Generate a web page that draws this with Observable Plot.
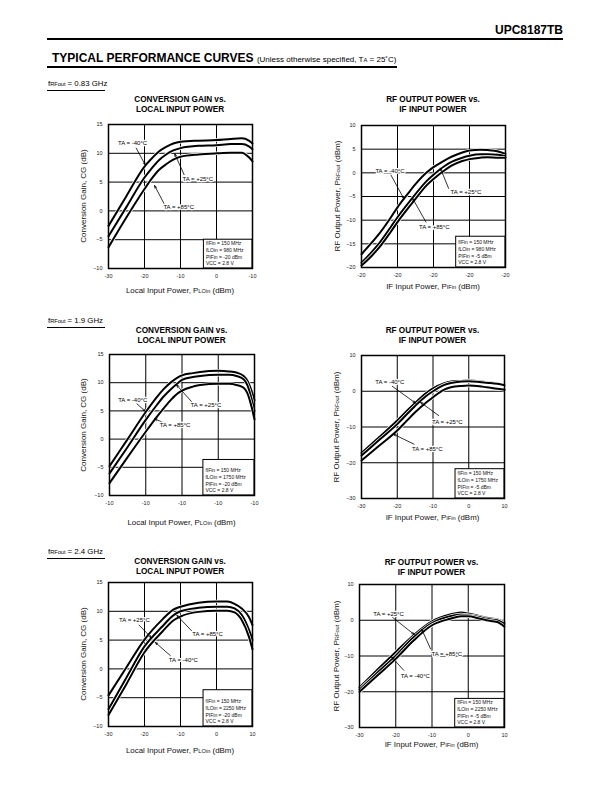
<!DOCTYPE html>
<html><head><meta charset="utf-8">
<script src="https://cdn.jsdelivr.net/npm/d3@7"></script>
<script src="https://cdn.jsdelivr.net/npm/@observablehq/plot@0.6"></script>
<style>
body{margin:0;background:#fff;font-family:"Liberation Sans",Arial,sans-serif;color:#000;}
#page{position:relative;width:612px;height:792px;overflow:hidden;background:#fff;}
.s{font-size:0.72em;}
</style></head><body><div id="page"></div>
<script>
// ---------------- DATA ----------------
const tNeg40 = "TA = -40°C", tPos25 = "TA = +25°C", tPos85 = "TA = +85°C";

// Panel 1: fRFout = 0.83 GHz, conversion gain vs LO power
const cg083X   = [-30,-25,-20,-18,-16,-14,-12,-10,-5,0,4,7,9,10];
const cg083N40 = [-2.6,2.6,7.7,9.1,10.3,11.1,11.7,12.0,12.2,12.3,12.5,12.6,12.2,11.7];
const cg083P25 = [-4.4,0.7,5.8,7.4,8.8,9.8,10.5,10.9,11.3,11.4,11.6,11.6,11.2,10.7];
const cg083P85 = [-6.3,-1.1,3.8,5.6,7.1,8.1,8.9,9.4,9.8,10.0,10.1,10.1,9.3,8.6];

// Panel 2: 0.83 GHz, RF output vs IF input
const rf083X   = [-30,-27,-25,-22,-20,-17,-15,-12,-10,-7,-5,-2,0,3,5,8,10];
const rf083N40 = [-17.2,-14.6,-12.8,-9.6,-7.3,-4.3,-2.4,0,1.2,2.6,3.4,4.3,4.7,4.9,4.8,4.5,4.0];
const rf083P25 = [-19,-16.6,-14.8,-11.6,-9.4,-6.4,-4.5,-1.8,-0.4,1.4,2.3,3.2,3.6,3.9,3.9,3.8,3.5];
const rf083P85 = [-19.6,-17.4,-15.7,-12.6,-10.4,-7.4,-5.5,-2.7,-1.3,0.5,1.5,2.5,2.9,3.2,3.3,3.2,3.2];

// Panel 3: 1.9 GHz, conversion gain
const cg19X   = [-30,-25,-20,-17,-15,-13,-11,-10,-7,-5,0,3,5,7,8,9,10];
const cg19N40 = [-4.8,0,4.8,7.4,8.9,10.1,11.0,11.3,11.7,11.9,12.1,12.0,11.8,11.2,10.4,8.9,6.9];
const cg19P25 = [-6.1,-1.4,3.4,6.0,7.6,8.9,10.0,10.5,11.0,11.2,11.4,11.4,11.2,10.6,9.6,7.6,5.0];
const cg19P85 = [-7.8,-3.2,1.3,3.9,5.5,7.0,8.2,8.6,9.3,9.6,9.8,9.8,9.6,9.1,8.2,6.2,3.5];

// Panel 4: 1.9 GHz, RF output
const rf19X   = [-30,-25,-20,-17,-15,-12,-10,-7,-5,-2,0,3,5,8,10];
const rf19N40 = [-17.3,-12.8,-8.2,-5.2,-3.3,-0.6,0.8,2.2,2.7,2.9,3.0,2.8,2.5,2.2,1.9];
const rf19P25 = [-18.0,-13.6,-9.2,-6.1,-4.1,-1.4,0.0,1.7,2.3,2.7,2.8,2.6,2.4,2.1,1.7];
const rf19P85 = [-19.4,-15.2,-11.0,-7.9,-5.9,-3.2,-1.7,0.4,1.1,1.5,1.6,1.4,1.1,0.7,0.4];

// Panel 5: 2.4 GHz, conversion gain
const cg24X   = [-30,-25,-20,-15,-12,-10,-5,0,3,5,7,9,10];
const cg24P25 = [-4.6,0.3,5.1,8.6,10.3,10.8,11.5,11.7,11.7,11.3,10.5,9.0,7.6];
const cg24P85 = [-7.0,-1.5,3.9,7.4,9.3,10.0,10.6,10.8,10.8,10.5,9.4,6.8,5.0];
const cg24N40 = [-8.0,-2.6,2.9,6.5,8.4,9.1,9.9,10.1,10.1,9.8,8.5,5.6,3.4];

// Panel 6: 2.4 GHz, RF output
const rf24X   = [-30,-25,-20,-15,-10,-5,-2,0,3,5,8,10];
const rf24P25 = [-18.8,-13.8,-8.9,-4.1,-0.3,1.6,2.2,1.9,1.2,0.7,0.2,-0.6];
const rf24P85 = [-19.4,-14.6,-9.9,-4.7,-0.8,1.1,1.6,1.4,0.9,0.4,0.0,-1.0];
const rf24N40 = [-20.0,-15.4,-10.8,-5.6,-1.4,0.4,1.1,1.1,0.5,0.0,-0.5,-1.8];

// Tick values and labels (as printed)
const xTicks = [-30,-20,-10,0,10];
const xLabels083cg = ["-30","-20","-10","0","-10"];
const xLabels083rf = ["-20","-20","-20","-20","-20"];
const xLabels19cg  = ["-10","-10","-10","-10","-10"];
const xLabelsStd   = ["-30","-20","-10","0","10"];
const yTicksCG   = [15,10,5,0,-5,-10];
const yTicksRF083 = [10,5,0,-5,-10,-15,-20];
const yTicksRF   = [10,0,-10,-20,-30];

// Condition boxes
const info083cg = ["fIFin = 150 MHz","fLOin = 980 MHz","PIFin = -20 dBm","VCC = 2.8 V"];
const info083rf = ["fIFin = 150 MHz","fLOin = 980 MHz","PIFin = -5 dBm","VCC = 2.8 V"];
const info19cg  = ["fIFin = 150 MHz","fLOin = 1750 MHz","PIFin = -20 dBm","VCC = 2.8 V"];
const info19rf  = ["fIFin = 150 MHz","fLOin = 1750 MHz","PIFin = -5 dBm","VCC = 2.8 V"];
const info24cg  = ["fIFin = 150 MHz","fLOin = 2250 MHz","PIFin = -20 dBm","VCC = 2.8 V"];
const info24rf  = ["fIFin = 150 MHz","fLOin = 2250 MHz","PIFin = -5 dBm","VCC = 2.8 V"];
// box corner (left x, top y) in data units
const box083cg = [-3.5,-5], box083rf = [-3.7,-13.5], box19cg = [-4.1,-3.7],
      box19rf = [-3.7,-21.8], box24cg = [-3.6,-3.7], box24rf = [-3.6,-22];

// Annotations: label, text position, arrow start, arrow end (data units)
const ann083cg = [
  {label:tNeg40, tx:-23.3, ty:11.7, x1:-22.3, y1:10.9, x2:-19.8, y2:8.0},
  {label:tPos25, tx:-5.2,  ty:5.6,  x1:-9.0,  y1:6.3,  x2:-11.6, y2:9.9},
  {label:tPos85, tx:-10.5, ty:0.7,  x1:-14.6, y1:1.3,  x2:-17.2, y2:4.4}];
const ann083rf = [
  {label:tNeg40, tx:-22.1, ty:0.3,   x1:-21.8, y1:-0.5,  x2:-18.2, y2:-5.5},
  {label:tPos25, tx:-1.0,  ty:-4.0,  x1:-5.8,  y1:-3.3,  x2:-8.1,  y2:1.0},
  {label:tPos85, tx:-9.8,  ty:-11.4, x1:-12.1, y1:-10.4, x2:-15.8, y2:-5.4}];
const ann19cg = [
  {label:tNeg40, tx:-23.6, ty:7.0, x1:-22.5, y1:6.3, x2:-20.1, y2:4.9},
  {label:tPos25, tx:-3.4,  ty:6.1, x1:-7.3,  y1:6.6, x2:-11.5, y2:9.6},
  {label:tPos85, tx:-11.9, ty:2.4, x1:-15.4, y1:3.0, x2:-17.6, y2:3.6}];
const ann19rf = [
  {label:tNeg40, tx:-22.1, ty:2.5,   x1:-21.4, y1:1.4,   x2:-14.9, y2:-3.3},
  {label:tPos25, tx:-6.0,  ty:-8.5,  x1:-8.4,  y1:-6.8,  x2:-13.5, y2:-3.1},
  {label:tPos85, tx:-11.6, ty:-16.2, x1:-15.3, y1:-14.8, x2:-21.1, y2:-12.0}];
const ann24cg = [
  {label:tPos25, tx:-22.8, ty:8.4, x1:-21.5, y1:7.6, x2:-18.1, y2:5.4},
  {label:tPos85, tx:-2.5,  ty:6.0, x1:-6.9,  y1:6.6, x2:-11.0, y2:9.3},
  {label:tNeg40, tx:-9.2,  ty:1.6, x1:-12.8, y1:2.3, x2:-17.0, y2:4.6}];
const ann24rf = [
  {label:tPos25, tx:-22.0, ty:1.85,  x1:-21.0, y1:0.9,   x2:-14.9, y2:-4.0},
  {label:tPos85, tx:-5.9,  ty:-9.4,  x1:-10.4, y1:-8.0,  x2:-12.8, y2:-2.6},
  {label:tNeg40, tx:-14.6, ty:-15.5, x1:-17.8, y1:-14.0, x2:-21.1, y2:-10.3}];

// ---------------- LAYOUT ----------------
const page = document.getElementById("page");
function addText(html, x, y, css, anchor) {
  const d = document.createElement("div");
  d.innerHTML = html;
  d.style.cssText = `position:absolute;left:${x}px;top:${y}px;white-space:nowrap;line-height:1;` + (css||"");
  const a = anchor || "center";
  d.style.transform = a === "center" ? "translate(-50%,-50%)" :
                      a === "left" ? "translate(0,-50%)" :
                      a === "right" ? "translate(-100%,-50%)" :
                      "translate(-50%,-50%) rotate(-90deg)";
  page.appendChild(d);
}
function addRule(x1, x2, y, h) {
  const d = document.createElement("div");
  d.style.cssText = `position:absolute;left:${x1}px;top:${y}px;width:${x2-x1}px;height:${h}px;background:#000;`;
  page.appendChild(d);
}

// Header
addText("UPC8187TB", 563, 30, "font-weight:bold;font-size:12px;", "right");
addRule(47, 563, 38, 2);
addText('TYPICAL PERFORMANCE CURVES <span style="font-weight:normal;font-size:8px;">(Unless otherwise specified, T<span class="s">A</span> = 25˚C)</span>',
  52, 58, "font-weight:bold;font-size:12px;", "left");
addRule(47, 397, 66, 1.5);

// Section labels
const sections = [["0.83 GHz", 84], ["1.9 GHz", 321], ["2.4 GHz", 552]];
for (const [f, y] of sections) {
  addText(`f<span class="s">RFout</span> = ${f}`, 48, y, "font-size:7.8px;", "left");
  addRule(47, 105, y + 6, 1);
}

const cgYTitle = 'Conversion Gain, CG (dB)';
const rfYTitle = 'RF Output Power, P<span class="s">RFout</span> (dBm)';
const cgXTitle = 'Local Input Power, P<span class="s">LOin</span> (dBm)';
const rfXTitle = 'IF Input Power, P<span class="s">IFin</span> (dBm)';

const panels = [
  {left:108, top:124, w:144, h:144, title:["CONVERSION GAIN vs.","LOCAL INPUT POWER"], ty:[100,110],
   yt:cgYTitle, ytx:84, xt:cgXTitle, xty:291, yDomain:[-10,15], yTicks:yTicksCG, xLabels:xLabels083cg,
   x:cg083X, series:[cg083N40,cg083P25,cg083P85], info:info083cg, box:box083cg, ann:ann083cg},
  {left:361, top:125, w:144, h:142, title:["RF OUTPUT POWER vs.","IF INPUT POWER"], ty:[100,110],
   yt:rfYTitle, ytx:338, xt:rfXTitle, xty:287, yDomain:[-20,10], yTicks:yTicksRF083, xLabels:xLabels083rf,
   x:rf083X, series:[rf083N40,rf083P25,rf083P85], info:info083rf, box:box083rf, ann:ann083rf},
  {left:109, top:354, w:145, h:141, title:["CONVERSION GAIN vs.","LOCAL INPUT POWER"], ty:[331,341],
   yt:cgYTitle, ytx:84, xt:cgXTitle, xty:523, yDomain:[-10,15], yTicks:yTicksCG, xLabels:xLabels19cg,
   x:cg19X, series:[cg19N40,cg19P25,cg19P85], info:info19cg, box:box19cg, ann:ann19cg},
  {left:361, top:355, w:143, h:143, title:["RF OUTPUT POWER vs.","IF INPUT POWER"], ty:[331,341],
   yt:rfYTitle, ytx:337, xt:rfXTitle, xty:518, yDomain:[-30,10], yTicks:yTicksRF, xLabels:xLabelsStd,
   x:rf19X, series:[rf19N40,rf19P25,rf19P85], info:info19rf, box:box19rf, ann:ann19rf},
  {left:108, top:582, w:144, h:144, title:["CONVERSION GAIN vs.","LOCAL INPUT POWER"], ty:[562,572],
   yt:cgYTitle, ytx:84, xt:cgXTitle, xty:751, yDomain:[-10,15], yTicks:yTicksCG, xLabels:xLabelsStd,
   x:cg24X, series:[cg24P25,cg24P85,cg24N40], info:info24cg, box:box24cg, ann:ann24cg},
  {left:359, top:584, w:145, h:143, title:["RF OUTPUT POWER vs.","IF INPUT POWER"], ty:[563,573],
   yt:rfYTitle, ytx:337, xt:rfXTitle, xty:745, yDomain:[-30,10], yTicks:yTicksRF, xLabels:xLabelsStd,
   x:rf24X, series:[rf24P25,rf24P85,rf24N40], info:info24rf, box:box24rf, ann:ann24rf}
];

const ml = 26, mr = 10, mt = 8, mb = 18;
for (const p of panels) {
  const cx = p.left + p.w / 2, cy = p.top + p.h / 2;
  addText(p.title[0], cx, p.ty[0], "font-weight:bold;font-size:8.2px;");
  addText(p.title[1], cx, p.ty[1], "font-weight:bold;font-size:8.2px;");
  addText(p.yt, p.ytx, cy, "font-size:8px;color:#111;", "rot");
  addText(p.xt, cx, p.xty, "font-size:7.9px;color:#111;");

  const xDomain = [-30, 10];
  const lineMarks = [];
  p.series.forEach((ys) => {
    const d = p.x.map((x, i) => ({x, y: ys[i]}));
    lineMarks.push(Plot.line(d, {x:"x", y:"y", stroke:"white", strokeWidth:3.4, curve:"monotone-x"}));
    lineMarks.push(Plot.line(d, {x:"x", y:"y", stroke:"black", strokeWidth:2.0, curve:"monotone-x"}));
  });
  const boxData = [{x1:p.box[0], x2:xDomain[1], y1:p.yDomain[0], y2:p.box[1]}];

  const svg = Plot.plot({
    width: p.w + ml + mr, height: p.h + mt + mb,
    marginLeft: ml, marginRight: mr, marginTop: mt, marginBottom: mb,
    x: {domain: xDomain, label: null},
    y: {domain: p.yDomain, label: null},
    style: {fontFamily: '"Liberation Sans", Arial, sans-serif', fontSize: "5.5px", color: "#222", background: "transparent", overflow: "visible"},
    marks: [
      Plot.gridX(xTicks, {stroke:"black", strokeOpacity:1, strokeWidth:1}),
      Plot.gridY(p.yTicks, {stroke:"black", strokeOpacity:1, strokeWidth:1}),
      Plot.axisX(xTicks, {tickSize:0, tickPadding:6, label:null, tickFormat: d => p.xLabels[xTicks.indexOf(d)]}),
      Plot.axisY(p.yTicks, {tickSize:0, tickPadding:6, label:null}),
      ...lineMarks,
      Plot.rect(boxData, {x1:"x1", x2:"x2", y1:"y1", y2:"y2", fill:"white", stroke:"black", strokeWidth:1}),
      Plot.text([p.info.join("\n")], {x: p.box[0], frameAnchor:"bottom", textAnchor:"start", lineAnchor:"bottom",
        dx: 2, dy: -3.2, lineHeight: 1.35, fontSize: 5, fill:"#111"}),
      Plot.arrow(p.ann, {x1:"x1", y1:"y1", x2:"x2", y2:"y2", stroke:"black", strokeWidth:0.8, headLength:5, headAngle:40}),
      Plot.text(p.ann, {x:"tx", y:"ty", text:"label", fill:"black", stroke:"white", strokeWidth:2.5, fontSize:6}),
      Plot.frame({stroke:"black", strokeWidth:1.5})
    ]
  });
  svg.style.position = "absolute";
  svg.style.left = (p.left - ml) + "px";
  svg.style.top = (p.top - mt) + "px";
  page.appendChild(svg);
}
</script></body></html>
